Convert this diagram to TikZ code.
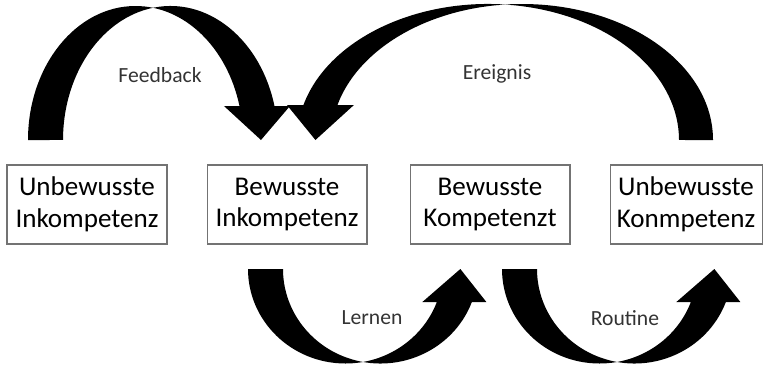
\documentclass[tikz,border=0pt]{standalone}
\usepackage{fontspec}
\setmainfont{Carlito}
\usetikzlibrary{positioning}
\tikzset{
  stufe/.style = {
    rectangle,
    draw=black!55,
    line width=0.6pt,
    minimum width=3.2cm,
    minimum height=1.58cm,
    inner sep=0pt,
    align=center,
    font=\fontsize{15.4}{18.2}\selectfont
  },
  beschriftung/.style = {
    text=black!80,
    inner sep=0pt,
    font=\fontsize{12.3}{14}\selectfont
  },
  % gebogener Blockpfeil: a/b/w/h/hw/versatz
  pics/bogen/.style args = {#1/#2/#3/#4/#5/#6}{
    code = {
      \pgfmathsetmacro\winkel{asin(#4/#2)}
      \pgfmathsetmacro\spitze{#1+#1*cos(\winkel)+#3/2}
      \fill (0,0) arc[start angle=180, end angle=\winkel, x radius=#1, y radius=#2]
        -- (\spitze-#5,#4) -- (\spitze+#6,0) -- (\spitze+#5,#4)
        -- (\spitze+#3/2,#4)
        arc[start angle=\winkel, end angle=180, x radius=#1, y radius=#2] -- cycle;
    }
  },
}
\begin{document}
\begin{tikzpicture}[x=0.02cm, y=0.02cm]
  \useasboundingbox (0,0) rectangle (766,366);

  \node [stufe] (ui) at (87,161.5) {Unbewusste\\Inkompetenz};
  \node [stufe, right=0.78cm of ui] (bi) {Bewusste\\Inkompetenz};
  \node [stufe, right=0.84cm of bi] (bk) {Bewusste\\Kompetenzt};
  \node [stufe, minimum width=3.04cm, right=0.78cm of bk] (uk) {Unbewusste\\Konmpetenz};

  \pic at (28,226) {bogen=107.5/134/35/34/33/4};
  \pic [xscale=-1] at (713,226) {bogen=191/136/34/35/33.5/5};
  \pic [yscale=-1] at (248,97) {bogen=97.5/94.5/35/33/32/6};
  \pic [yscale=-1] at (502,97) {bogen=97.5/94.5/35/33/32/6};

  \node [beschriftung] (feedback) at (160,291) {Feedback};
  \node [beschriftung] (ereignis) at (497,292) {Ereignis};
  \node [beschriftung] (lernen) at (372,48) {Lernen};
  \node [beschriftung] (routine) at (625,48) {Routine};
\end{tikzpicture}
\end{document}
